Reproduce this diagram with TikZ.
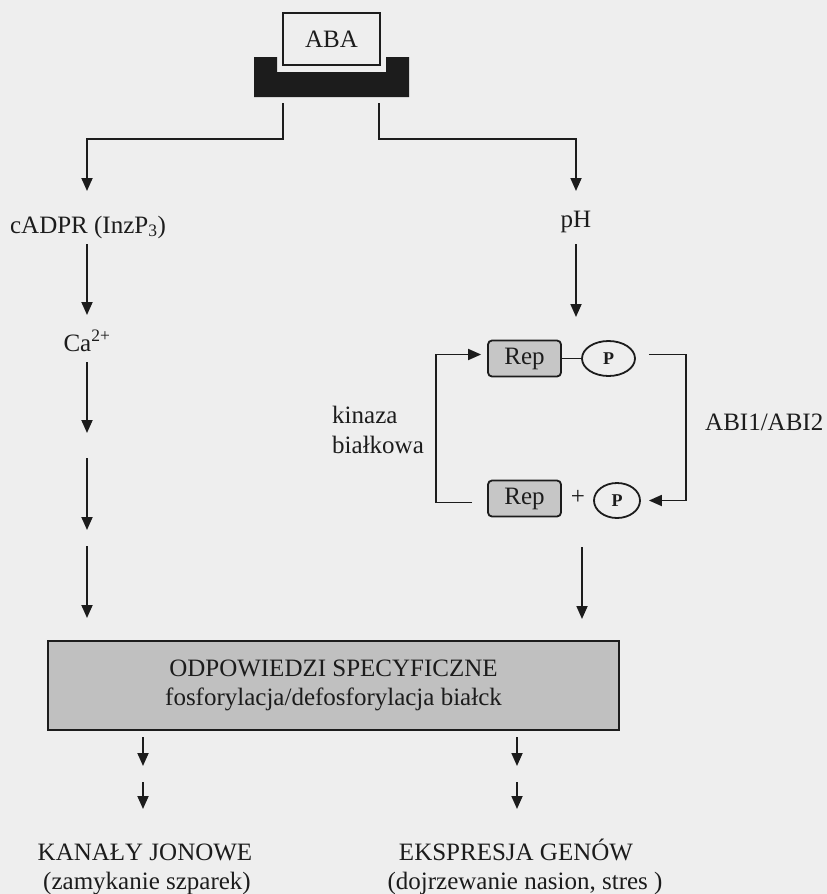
\documentclass[tikz,border=0pt]{standalone}
\usepackage{fontspec}
\setmainfont{Liberation Serif}
\usetikzlibrary{arrows.meta,shapes.geometric}
\definecolor{bg}{RGB}{238,238,238}
\definecolor{ink}{RGB}{28,28,28}
\definecolor{boxgray}{RGB}{192,192,192}
\definecolor{repgray}{RGB}{198,198,198}
\begin{document}
\begin{tikzpicture}[x=1pt,y=-1pt,
  lab/.style={font=\fontsize{25}{30}\selectfont, text=ink, inner sep=0pt},
  ln/.style={line width=1.8pt, draw=ink},
  arr/.style={ln, -{Triangle[length=13pt,width=11pt]}},
  repbox/.style={draw=ink, line width=1.8pt, fill=repgray, rounded corners=4pt,
    minimum width=73pt, minimum height=36pt, inner sep=0pt, text=ink,
    font=\fontsize{25}{30}\selectfont},
  pell/.style={ellipse, draw=ink, line width=1.8pt, fill=bg, inner sep=0pt,
    minimum height=35pt, text=ink, font=\fontsize{18}{20}\selectfont\bfseries}]
% background / bounding box
\fill[bg] (0,0) rectangle (827,894);
\useasboundingbox (0,0) rectangle (827,894);

% receptor (black U shape)
\fill[ink] (254,57) -- (277,57) -- (277,72) -- (386,72) -- (386,57) -- (409,57)
  -- (409,97) -- (254,97) -- cycle;
% ABA box
\node[draw=ink, line width=1.8pt, fill=bg, minimum width=97pt, minimum height=52pt,
  inner sep=0pt, lab] (aba) at (331.5,39) {ABA};

% text nodes
\node[lab, anchor=base] (cadpr) at (88,233) {cADPR (InzP\textsubscript{3})};
\node[lab, anchor=base] (ph) at (576,227) {pH};
\node[lab, anchor=base] (ca) at (87,351) {Ca\textsuperscript{2+}};
\node[lab, anchor=base west] (kin1) at (332,423) {kinaza};
\node[lab, anchor=base west] (kin2) at (332,453) {białkowa};
\node[lab, anchor=base west] (abi) at (705,430) {ABI1/ABI2};

% Rep / P cycle
\node[repbox] (rep1) at (524.5,358.5) {Rep};
\node[pell, minimum width=53pt] (p1) at (608.5,358.5) {P};
\node[repbox] (rep2) at (524.5,498.5) {Rep};
\node[lab] (plus) at (578,497) {+};
\node[pell, minimum width=46pt] (p2) at (617,500.5) {P};

\draw[ln] (rep1.east) -- (p1.west);
\draw[arr] ([xshift=13pt,yshift=4pt]p1.east) -- ++(37,0) |- ([xshift=8pt]p2.east);
\draw[arr] ([xshift=-15pt,yshift=-4pt]rep2.west) -- ++(-36,0) |- ([xshift=-6pt,yshift=4pt]rep1.west);

% response box
\node[draw=ink, line width=1.8pt, fill=boxgray, minimum width=571pt, minimum height=89pt,
  inner sep=0pt, align=center, text=ink, font=\fontsize{25}{29}\selectfont]
  (resp) at (333.5,685.5) {ODPOWIEDZI SPECYFICZNE\\fosforylacja/defosforylacja białck};

% bottom texts
\node[lab, anchor=base] (kan1) at (145,860) {KANAŁY JONOWE};
\node[lab, anchor=base] (kan2) at (147,889) {(zamykanie szparek)};
\node[lab, anchor=base] (eks1) at (516,860) {EKSPRESJA GENÓW};
\node[lab, anchor=base] (eks2) at (525,889) {(dojrzewanie nasion, stres )};

% coordinates for free connector ends
\coordinate (rl) at (283,103);
\coordinate (rr) at (379,103);
\coordinate (cadin) at (87,191);
\coordinate (phin) at (576,191);
\coordinate (cadout) at (87,244);
\coordinate (cain) at (87,315);
\coordinate (phout) at (576,244);
\coordinate (repin) at (576,317);
\coordinate (l1a) at (87,362);  \coordinate (l1b) at (87,433);
\coordinate (l2a) at (87,458);  \coordinate (l2b) at (87,530);
\coordinate (l3a) at (87,546);  \coordinate (l3b) at (87,618);
\coordinate (r1a) at (582,547); \coordinate (r1b) at (582,619);
\coordinate (b1a) at (143,737); \coordinate (b1b) at (143,766);
\coordinate (b2a) at (143,782); \coordinate (b2b) at (143,809);
\coordinate (b3a) at (517,737); \coordinate (b3b) at (517,766);
\coordinate (b4a) at (517,782); \coordinate (b4b) at (517,809);

% connectors
\draw[arr] (rl) -- (283,139) -| (cadin);
\draw[arr] (rr) -- (379,139) -| (phin);
\draw[arr] (cadout) -- (cain);
\draw[arr] (phout) -- (repin);
\draw[arr] (l1a) -- (l1b);
\draw[arr] (l2a) -- (l2b);
\draw[arr] (l3a) -- (l3b);
\draw[arr] (r1a) -- (r1b);
\draw[arr] (b1a) -- (b1b);
\draw[arr] (b2a) -- (b2b);
\draw[arr] (b3a) -- (b3b);
\draw[arr] (b4a) -- (b4b);
\end{tikzpicture}
\end{document}
